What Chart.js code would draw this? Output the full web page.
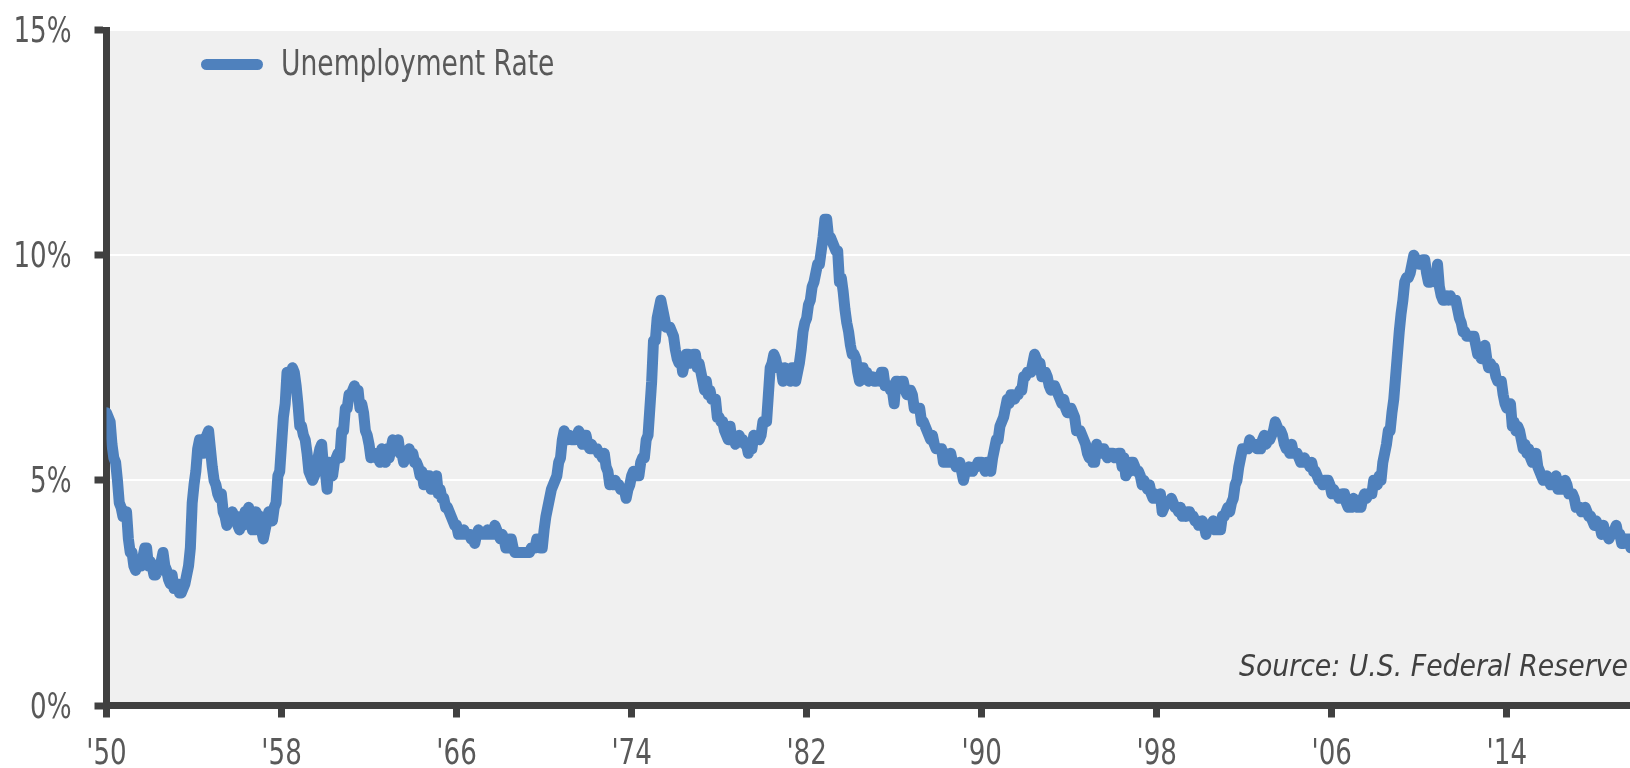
<!DOCTYPE html>
<html>
<head>
<meta charset="utf-8">
<title>Unemployment Rate</title>
<script src="https://cdn.jsdelivr.net/npm/chart.js@4.4.1/dist/chart.umd.min.js"></script>
<style>
    html, body { margin: 0; padding: 0; background: #ffffff; overflow: hidden; }
    #wrap { position: relative; width: 1630px; height: 768px; }
    .narrow { font-family: "DejaVu Sans Condensed", "DejaVu Sans", sans-serif; }
    #legend-swatch {
        position: absolute; left: 201px; top: 58.5px; width: 62px; height: 11px;
        border-radius: 6px; background: #4f81bd;
    }
    #legend-text {
        position: absolute; left: 281px; top: 45px; font-size: 36px; line-height: 36px;
        color: #595959; white-space: nowrap;
        transform: scaleX(0.82); transform-origin: 0 50%;
    }
    #source {
        position: absolute; right: 2px; top: 651px; font-size: 30px; line-height: 30px;
        font-style: italic; color: #404040; white-space: nowrap;
        transform: scaleX(0.99); transform-origin: 100% 50%;
    }
</style>
</head>
<body>
<div id="wrap">
    <canvas id="rateChart"></canvas>
    <div id="legend-swatch"></div>
    <div id="legend-text" class="narrow">Unemployment Rate</div>
    <div id="source" class="narrow">Source: U.S. Federal Reserve</div>
</div>
<script>
'use strict';

const FONT_FAMILY = '"DejaVu Sans Condensed", "DejaVu Sans", sans-serif';
const TEXT_SQUEEZE = 0.83;
const LINE_COLOR = '#4f81bd';
const AXIS_COLOR = '#404040';
const LABEL_COLOR = '#595959';
const PLOT_BG = '#f0f0f0';

// ── Data: monthly unemployment rate (%), one array per decade ────────────────

const rate1950s = [
    6.5, 6.4, 6.3, 5.8, 5.5, 5.4, 5.0, 4.5, 4.4, 4.2, 4.2, 4.3,
    3.7, 3.4, 3.4, 3.1, 3.0, 3.2, 3.1, 3.1, 3.3, 3.5, 3.5, 3.1,
    3.2, 3.1, 2.9, 2.9, 3.0, 3.0, 3.2, 3.4, 3.1, 3.0, 2.8, 2.7,
    2.9, 2.6, 2.6, 2.7, 2.5, 2.5, 2.6, 2.7, 2.9, 3.1, 3.5, 4.5,
    4.9, 5.2, 5.7, 5.9, 5.9, 5.6, 5.8, 6.0, 6.1, 5.7, 5.3, 5.0,
    4.9, 4.7, 4.6, 4.7, 4.3, 4.2, 4.0, 4.2, 4.1, 4.3, 4.2, 4.2,
    4.0, 3.9, 4.2, 4.0, 4.3, 4.3, 4.4, 4.1, 3.9, 3.9, 4.3, 4.2,
    4.2, 3.9, 3.7, 3.9, 4.1, 4.3, 4.2, 4.1, 4.4, 4.5, 5.1, 5.2,
    5.8, 6.4, 6.7, 7.4, 7.4, 7.3, 7.5, 7.4, 7.1, 6.7, 6.2, 6.2,
    6.0, 5.9, 5.6, 5.2, 5.1, 5.0, 5.1, 5.2, 5.5, 5.7, 5.8, 5.3,
];
const rate1960s = [
    5.2, 4.8, 5.4, 5.2, 5.1, 5.4, 5.5, 5.6, 5.5, 6.1, 6.1, 6.6,
    6.6, 6.9, 6.9, 7.0, 7.1, 6.9, 7.0, 6.6, 6.7, 6.5, 6.1, 6.0,
    5.8, 5.5, 5.6, 5.6, 5.5, 5.5, 5.4, 5.7, 5.6, 5.4, 5.7, 5.5,
    5.7, 5.9, 5.7, 5.7, 5.9, 5.6, 5.6, 5.4, 5.5, 5.5, 5.7, 5.5,
    5.6, 5.4, 5.4, 5.3, 5.1, 5.2, 4.9, 5.0, 5.1, 5.1, 4.8, 5.0,
    4.9, 5.1, 4.7, 4.8, 4.6, 4.6, 4.4, 4.4, 4.3, 4.2, 4.1, 4.0,
    4.0, 3.8, 3.8, 3.8, 3.9, 3.8, 3.8, 3.8, 3.7, 3.7, 3.6, 3.8,
    3.9, 3.8, 3.8, 3.8, 3.8, 3.9, 3.8, 3.8, 3.8, 4.0, 3.9, 3.8,
    3.7, 3.8, 3.7, 3.5, 3.5, 3.7, 3.7, 3.5, 3.4, 3.4, 3.4, 3.4,
    3.4, 3.4, 3.4, 3.4, 3.4, 3.5, 3.5, 3.5, 3.7, 3.7, 3.5, 3.5,
];
const rate1970s = [
    3.9, 4.2, 4.4, 4.6, 4.8, 4.9, 5.0, 5.1, 5.4, 5.5, 5.9, 6.1,
    5.9, 5.9, 6.0, 5.9, 5.9, 5.9, 6.0, 6.1, 6.0, 5.8, 6.0, 6.0,
    5.8, 5.7, 5.8, 5.7, 5.7, 5.7, 5.6, 5.6, 5.5, 5.6, 5.3, 5.2,
    4.9, 5.0, 4.9, 5.0, 4.9, 4.9, 4.8, 4.8, 4.8, 4.6, 4.8, 4.9,
    5.1, 5.2, 5.1, 5.1, 5.1, 5.4, 5.5, 5.5, 5.9, 6.0, 6.6, 7.2,
    8.1, 8.1, 8.6, 8.8, 9.0, 8.8, 8.6, 8.4, 8.4, 8.4, 8.3, 8.2,
    7.9, 7.7, 7.6, 7.7, 7.4, 7.6, 7.8, 7.8, 7.6, 7.7, 7.8, 7.8,
    7.5, 7.6, 7.4, 7.2, 7.0, 7.2, 6.9, 7.0, 6.8, 6.8, 6.8, 6.4,
    6.4, 6.3, 6.3, 6.1, 6.0, 5.9, 6.2, 5.9, 6.0, 5.8, 5.9, 6.0,
    5.9, 5.9, 5.8, 5.8, 5.6, 5.7, 5.7, 6.0, 5.9, 6.0, 5.9, 6.0,
];
const rate1980s = [
    6.3, 6.3, 6.3, 6.9, 7.5, 7.6, 7.8, 7.7, 7.5, 7.5, 7.5, 7.2,
    7.5, 7.4, 7.4, 7.2, 7.5, 7.5, 7.2, 7.4, 7.6, 7.9, 8.3, 8.5,
    8.6, 8.9, 9.0, 9.3, 9.4, 9.6, 9.8, 9.8, 10.1, 10.4, 10.8, 10.8,
    10.4, 10.4, 10.3, 10.2, 10.1, 10.1, 9.4, 9.5, 9.2, 8.8, 8.5, 8.3,
    8.0, 7.8, 7.8, 7.7, 7.4, 7.2, 7.5, 7.5, 7.3, 7.4, 7.2, 7.3,
    7.3, 7.2, 7.2, 7.3, 7.2, 7.4, 7.4, 7.1, 7.1, 7.1, 7.0, 7.0,
    6.7, 7.2, 7.2, 7.1, 7.2, 7.2, 7.0, 6.9, 7.0, 7.0, 6.9, 6.6,
    6.6, 6.6, 6.6, 6.3, 6.3, 6.2, 6.1, 6.0, 5.9, 6.0, 5.8, 5.7,
    5.7, 5.7, 5.7, 5.4, 5.6, 5.4, 5.4, 5.6, 5.4, 5.4, 5.3, 5.3,
    5.4, 5.2, 5.0, 5.2, 5.2, 5.3, 5.2, 5.2, 5.3, 5.3, 5.4, 5.4,
];
const rate1990s = [
    5.4, 5.3, 5.2, 5.4, 5.4, 5.2, 5.5, 5.7, 5.9, 5.9, 6.2, 6.3,
    6.4, 6.6, 6.8, 6.7, 6.9, 6.9, 6.8, 6.9, 6.9, 7.0, 7.0, 7.3,
    7.3, 7.4, 7.4, 7.4, 7.6, 7.8, 7.7, 7.6, 7.6, 7.3, 7.4, 7.4,
    7.3, 7.1, 7.0, 7.1, 7.1, 7.0, 6.9, 6.8, 6.7, 6.8, 6.6, 6.5,
    6.6, 6.6, 6.5, 6.4, 6.1, 6.1, 6.1, 6.0, 5.9, 5.8, 5.6, 5.5,
    5.6, 5.4, 5.4, 5.8, 5.6, 5.6, 5.7, 5.7, 5.6, 5.5, 5.6, 5.6,
    5.6, 5.5, 5.5, 5.6, 5.6, 5.3, 5.5, 5.1, 5.2, 5.2, 5.4, 5.4,
    5.3, 5.2, 5.2, 5.1, 4.9, 5.0, 4.9, 4.8, 4.9, 4.7, 4.6, 4.7,
    4.6, 4.6, 4.7, 4.3, 4.4, 4.5, 4.5, 4.5, 4.6, 4.5, 4.4, 4.4,
    4.3, 4.4, 4.2, 4.3, 4.2, 4.3, 4.3, 4.2, 4.2, 4.1, 4.1, 4.0,
];
const rate2000s = [
    4.0, 4.1, 4.0, 3.8, 4.0, 4.0, 4.0, 4.1, 3.9, 3.9, 3.9, 3.9,
    4.2, 4.2, 4.3, 4.4, 4.3, 4.5, 4.6, 4.9, 5.0, 5.3, 5.5, 5.7,
    5.7, 5.7, 5.7, 5.9, 5.8, 5.8, 5.8, 5.7, 5.7, 5.7, 5.9, 6.0,
    5.8, 5.9, 5.9, 6.0, 6.1, 6.3, 6.2, 6.1, 6.1, 6.0, 5.8, 5.7,
    5.7, 5.6, 5.8, 5.6, 5.6, 5.6, 5.5, 5.4, 5.4, 5.5, 5.4, 5.4,
    5.3, 5.4, 5.2, 5.2, 5.1, 5.0, 5.0, 4.9, 5.0, 5.0, 5.0, 4.9,
    4.7, 4.8, 4.7, 4.7, 4.6, 4.6, 4.7, 4.7, 4.5, 4.4, 4.5, 4.4,
    4.6, 4.5, 4.4, 4.5, 4.4, 4.6, 4.7, 4.6, 4.7, 4.7, 4.7, 5.0,
    5.0, 4.9, 5.1, 5.0, 5.4, 5.6, 5.8, 6.1, 6.1, 6.5, 6.8, 7.3,
    7.8, 8.3, 8.7, 9.0, 9.4, 9.5, 9.5, 9.6, 9.8, 10.0, 9.9, 9.9,
];
const rate2010s = [
    9.8, 9.8, 9.9, 9.9, 9.6, 9.4, 9.4, 9.5, 9.5, 9.4, 9.8, 9.3,
    9.1, 9.0, 9.0, 9.1, 9.0, 9.1, 9.0, 9.0, 9.0, 8.8, 8.6, 8.5,
    8.3, 8.3, 8.2, 8.2, 8.2, 8.2, 8.2, 8.0, 7.8, 7.8, 7.7, 7.9,
    8.0, 7.7, 7.5, 7.6, 7.5, 7.5, 7.3, 7.2, 7.2, 7.2, 6.9, 6.7,
    6.6, 6.7, 6.7, 6.2, 6.3, 6.1, 6.2, 6.1, 5.9, 5.7, 5.8, 5.6,
    5.7, 5.5, 5.4, 5.4, 5.6, 5.3, 5.2, 5.1, 5.0, 5.0, 5.1, 5.0,
    4.9, 4.9, 5.0, 5.1, 4.8, 4.9, 4.8, 4.9, 5.0, 4.9, 4.7, 4.7,
    4.7, 4.6, 4.4, 4.4, 4.4, 4.3, 4.3, 4.4, 4.3, 4.2, 4.2, 4.1,
    4.0, 4.1, 4.0, 4.0, 3.8, 4.0, 3.8, 3.8, 3.7, 3.8, 3.8, 3.9,
    4.0, 3.8, 3.8, 3.6, 3.6, 3.7, 3.7, 3.7, 3.5,
];

const decadeStarts = [1950, 1960, 1970, 1980, 1990, 2000, 2010];
const decadeRates = [rate1950s, rate1960s, rate1970s, rate1980s, rate1990s, rate2000s, rate2010s];

const xTickYears = [1950, 1958, 1966, 1974, 1982, 1990, 1998, 2006, 2014];
const xTickLabels = ["'50", "'58", "'66", "'74", "'82", "'90", "'98", "'06", "'14"];
const yTickValues = [0, 5, 10, 15];
const yTickLabels = ['0%', '5%', '10%', '15%'];

const X_MIN = 1950;
const X_MAX = 2019.63;

// ── Building the series ───────────────────────────────────────────────────────

function buildPoints() {
    const points = [];
    decadeRates.forEach((rates, d) => {
        rates.forEach((rate, m) => {
            points.push({ x: decadeStarts[d] + m / 12, y: rate });
        });
    });
    return points;
}

// the original uses a condensed face we don't have, so squeeze canvas text around its anchor
function squeezeCanvasText(ctx, factor) {
    const fill = ctx.fillText.bind(ctx);
    ctx.fillText = function (text, x, y, maxWidth) {
        ctx.save();
        ctx.translate(x, y);
        ctx.scale(factor, 1);
        if (maxWidth === undefined) {
            fill(text, 0, 0);
        } else {
            fill(text, 0, 0, maxWidth / factor);
        }
        ctx.restore();
    };
}

// ── Plugins ───────────────────────────────────────────────────────────────────

const plotBackground = {
    id: 'plotBackground',
    beforeDraw(chart) {
        const { ctx, chartArea: a } = chart;
        ctx.save();
        ctx.fillStyle = PLOT_BG;
        ctx.fillRect(a.left, a.top, a.right - a.left, a.bottom - a.top);
        ctx.restore();
    },
};

// ── Chart ─────────────────────────────────────────────────────────────────────

function renderChart() {
    Chart.defaults.font.family = FONT_FAMILY;
    const ctx = document.getElementById('rateChart').getContext('2d');
    squeezeCanvasText(ctx, TEXT_SQUEEZE);

    new Chart(ctx, {
        type: 'line',
        data: {
            datasets: [{
                label: 'Unemployment Rate',
                data: buildPoints(),
                borderColor: LINE_COLOR,
                borderWidth: 11,
                borderJoinStyle: 'round',
                borderCapStyle: 'round',
                pointRadius: 0,
                tension: 0,
                fill: false,
            }],
        },
        options: {
            responsive: true,
            maintainAspectRatio: false,
            animation: false,
            layout: { padding: { top: 30, right: 0, bottom: 0, left: 0 } },
            plugins: {
                legend: { display: false },
                tooltip: { enabled: false },
            },
            scales: {
                x: {
                    type: 'linear',
                    min: X_MIN,
                    max: X_MAX,
                    afterBuildTicks(scale) {
                        scale.ticks = xTickYears.map(v => ({ value: v }));
                    },
                    afterFit(scale) {
                        scale.height = 62.5;
                        scale.paddingLeft = 0;
                        scale.paddingRight = 0;
                    },
                    grid: {
                        drawOnChartArea: false,
                        color: AXIS_COLOR,
                        tickColor: AXIS_COLOR,
                        tickLength: 12,
                        tickWidth: 7,
                    },
                    border: { color: AXIS_COLOR, width: 7 },
                    ticks: {
                        autoSkip: false,
                        maxRotation: 0,
                        padding: 16,
                        color: LABEL_COLOR,
                        font: { size: 35 },
                        callback: v => xTickLabels[xTickYears.indexOf(v)],
                    },
                },
                y: {
                    min: 0,
                    max: 15,
                    afterBuildTicks(scale) {
                        scale.ticks = yTickValues.map(v => ({ value: v }));
                    },
                    afterFit(scale) {
                        scale.width = 106.5;
                        scale.paddingTop = 0;
                        scale.paddingBottom = 0;
                    },
                    grid: {
                        color: c => (c.tick && c.tick.value === 0 ? 'rgba(0,0,0,0)' : '#ffffff'),
                        lineWidth: 2,
                        tickColor: AXIS_COLOR,
                        tickLength: 12,
                        tickWidth: 7,
                    },
                    border: { color: AXIS_COLOR, width: 7 },
                    ticks: {
                        padding: 23,
                        labelOffset: 3,
                        color: LABEL_COLOR,
                        font: { size: 35 },
                        callback: v => yTickLabels[yTickValues.indexOf(v)],
                    },
                },
            },
        },
        plugins: [plotBackground],
    });
}

document.addEventListener('DOMContentLoaded', renderChart);
</script>
</body>
</html>
